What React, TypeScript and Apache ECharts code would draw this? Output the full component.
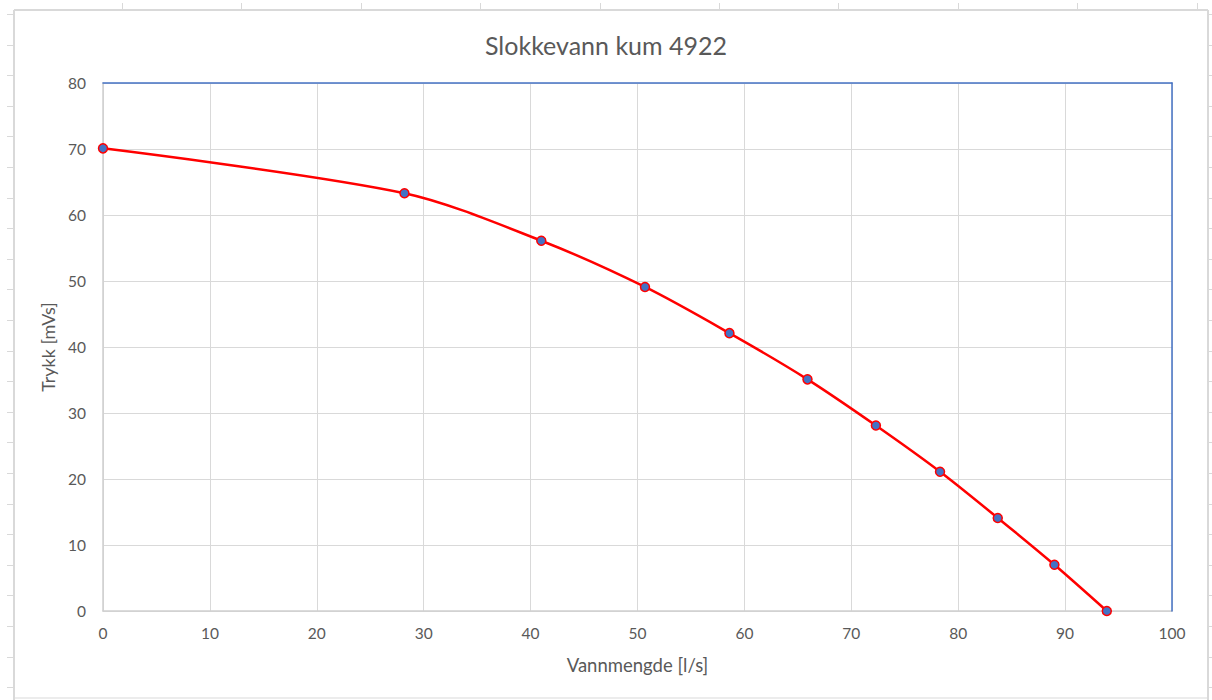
import React, { useEffect, useRef } from "react";
import * as echarts from "echarts";

const titleText = "Slokkevann kum 4922";
const xAxisName = "Vannmengde [l/s]";
const yAxisName = "Trykk [mVs]";
const flowValues = [0, 28.2, 41, 50.7, 58.6, 65.9, 72.3, 78.3, 83.7, 89.0, 93.9];
const pressureValues = [70.1, 63.3, 56.1, 49.1, 42.1, 35.1, 28.1, 21.1, 14.1, 7.0, 0];

const FONT = "Lato, 'Open Sans', sans-serif";
const GRAY_TEXT = "#595959";
const FRAME = "#d9d9d9";

export default function App() {
  const ref = useRef<HTMLDivElement>(null);
  useEffect(() => {
    document.body.style.margin = "0";
    if (!ref.current) return;
    const chart = echarts.init(ref.current, null, { renderer: "svg" });

    const graphics: any[] = [];
    graphics.push({ type: "line", shape: { x1: 14, y1: 10, x2: 1208, y2: 10 }, style: { stroke: FRAME, lineWidth: 2 }, silent: true });
    graphics.push({ type: "line", shape: { x1: 14, y1: 10, x2: 14, y2: 700 }, style: { stroke: FRAME, lineWidth: 2 }, silent: true });
    graphics.push({ type: "line", shape: { x1: 1208, y1: 10, x2: 1208, y2: 700 }, style: { stroke: FRAME, lineWidth: 2 }, silent: true });
    graphics.push({ type: "line", shape: { x1: 14, y1: 698, x2: 1208, y2: 698 }, style: { stroke: FRAME, lineWidth: 1 }, silent: true });
    for (let k = 0; k < 23; k++) {
      const y = Math.round(14 + 30.6 * k) + 0.5;
      graphics.push({ type: "line", shape: { x1: 7, y1: y, x2: 14, y2: y }, style: { stroke: FRAME, lineWidth: 1 }, silent: true });
      graphics.push({ type: "line", shape: { x1: 1208, y1: y, x2: 1212, y2: y }, style: { stroke: FRAME, lineWidth: 1 }, silent: true });
    }
    for (let k = 0; k < 10; k++) {
      const x = Math.round(122 + 119.4 * k) + 0.5;
      graphics.push({ type: "line", shape: { x1: x, y1: 3, x2: x, y2: 10 }, style: { stroke: FRAME, lineWidth: 1 }, silent: true });
    }

    const blueEdge = { show: true, onZero: false, lineStyle: { color: "#4472c4", width: 1.5 } };

    chart.setOption({
      animation: false,
      backgroundColor: "#ffffff",
      title: {
        text: titleText,
        left: "center",
        top: 27,
        textStyle: { fontFamily: FONT, fontSize: 25, fontWeight: "normal", color: GRAY_TEXT },
      },
      graphic: graphics,
      grid: {
        left: 103,
        right: 1212 - 1172,
        top: 83,
        bottom: 700 - 611,
        show: false,
      },
      xAxis: [
        {
          type: "value",
          min: 0,
          max: 100,
          interval: 10,
          name: xAxisName,
          nameLocation: "middle",
          nameGap: 44,
          nameTextStyle: { fontFamily: FONT, fontSize: 18.5, color: GRAY_TEXT },
          axisLine: { show: true, onZero: false, lineStyle: { color: "#cfcfcf", width: 1.5 } },
          axisTick: { show: false },
          axisLabel: { fontFamily: FONT, fontSize: 15.5, color: GRAY_TEXT, margin: 14 },
          splitLine: { show: true, lineStyle: { color: "#d9d9d9", width: 1 } },
          z: 3,
        },
        {
          type: "value",
          position: "top",
          min: 0,
          max: 100,
          interval: 10,
          axisLine: blueEdge,
          axisTick: { show: false },
          axisLabel: { show: false },
          splitLine: { show: false },
          z: 6,
        },
      ],
      yAxis: [
        {
          type: "value",
          min: 0,
          max: 80,
          interval: 10,
          name: yAxisName,
          nameLocation: "middle",
          nameRotate: 90,
          nameGap: 40,
          nameTextStyle: { fontFamily: FONT, fontSize: 18, color: GRAY_TEXT },
          axisLine: { show: true, onZero: false, lineStyle: { color: "#cfcfcf", width: 1.5 } },
          axisTick: { show: false },
          axisLabel: { fontFamily: FONT, fontSize: 15.5, color: GRAY_TEXT, margin: 17 },
          splitLine: { show: true, lineStyle: { color: "#d9d9d9", width: 1 } },
          z: 3,
        },
        {
          type: "value",
          position: "right",
          min: 0,
          max: 80,
          interval: 10,
          axisLine: blueEdge,
          axisTick: { show: false },
          axisLabel: { show: false },
          splitLine: { show: false },
          z: 6,
        },
      ],
      series: [
        {
          type: "line",
          xAxisIndex: 0,
          yAxisIndex: 0,
          data: flowValues.map((x, i) => [x, pressureValues[i]]),
          smooth: 0.3,
          symbol: "circle",
          symbolSize: 9,
          lineStyle: { color: "#ff0000", width: 2.5 },
          itemStyle: { color: "#4472c4", borderColor: "#ff0000", borderWidth: 1.5 },
          z: 7,
        },
      ],
    });
    return () => chart.dispose();
  }, []);
  return <div ref={ref} style={{ width: 1212, height: 700 }} />;
}
